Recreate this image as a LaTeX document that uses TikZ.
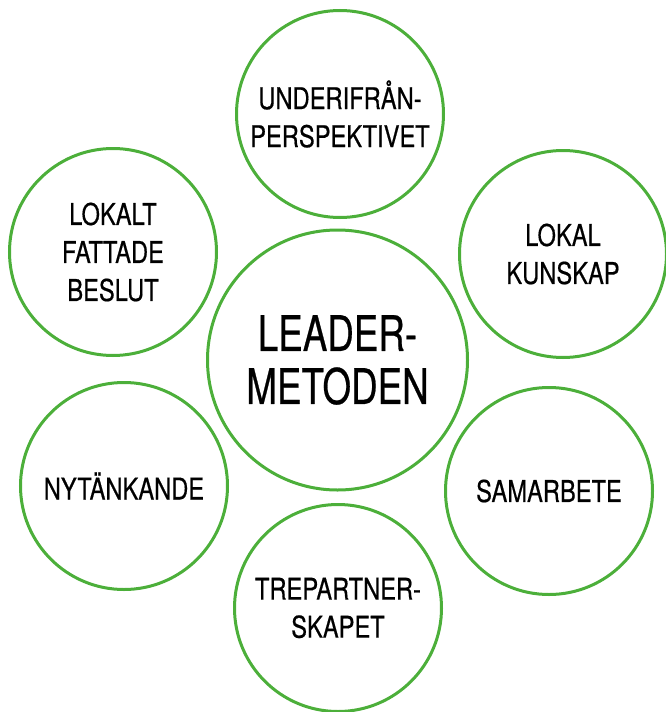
\documentclass[tikz,border=0pt]{standalone}
\usepackage{fontspec}
\setmainfont{TeX Gyre Heros}
\newfontfamily\outerfont[FakeStretch=0.79,FakeBold=0.5]{TeX Gyre Heros}
\newfontfamily\centerfont[FakeStretch=0.75,FakeBold=0.5]{TeX Gyre Heros}
\definecolor{leafgreen}{RGB}{76,175,58}
\tikzset{
  ring/.style={circle, draw=leafgreen, line width=3pt, inner sep=0pt, align=center},
  outer/.style={ring, minimum size=207pt, font=\outerfont\fontsize{30}{38}\selectfont},
  hub/.style={ring, minimum size=260pt, font=\centerfont\fontsize{49}{53}\selectfont}
}
\begin{document}
\begin{tikzpicture}[x=1pt,y=-1pt]
\useasboundingbox (0,0) rectangle (665,712);
\node[hub] (c) at (337.5,360) {LEADER-\\METODEN};
\node[outer] (top) at (340,114) {UNDERIFRÅN-\\PERSPEKTIVET};
\node[outer] (tl) at (113,252) {LOKALT\\FATTADE\\BESLUT};
\node[outer] (tr) at (563,254) {LOKAL\\KUNSKAP};
\node[outer] (bl) at (124,486) {NYTÄNKANDE};
\node[outer] (br) at (549,491) {SAMARBETE};
\node[outer] (bot) at (338,608) {TREPARTNER-\\SKAPET};
\end{tikzpicture}
\end{document}
